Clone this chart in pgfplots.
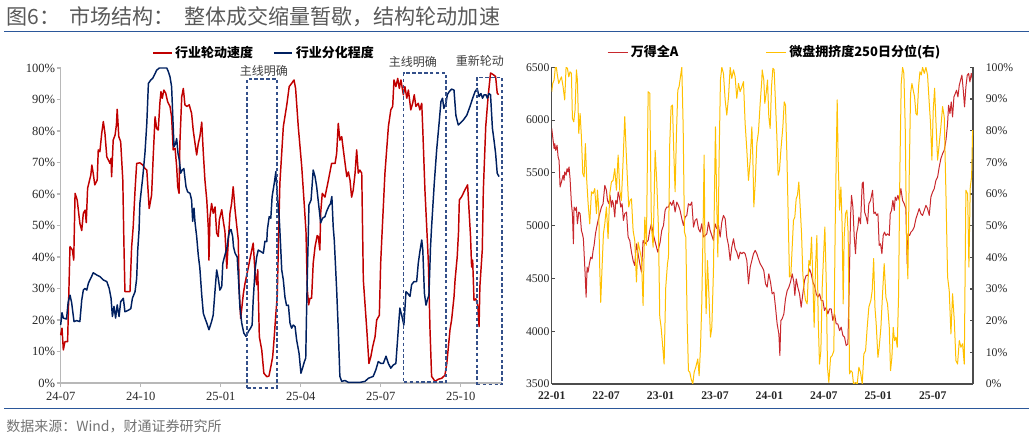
\documentclass[border=0pt]{standalone}
\usepackage{pgfplots}
\pgfplotsset{compat=1.18}
\usepackage{pgfplotstable}
\usepackage{fontspec}
\setmainfont{Liberation Serif}
\newfontfamily\cjk{Noto Sans CJK SC}
\definecolor{lred}{HTML}{C00000}
\definecolor{lnavy}{HTML}{002060}
\definecolor{rred}{HTML}{C8282D}
\definecolor{ryel}{HTML}{FFC000}
\definecolor{tblue}{HTML}{2B579A}
\definecolor{boxc}{HTML}{34508A}

% left panel: months since 2024-07, value in %
\pgfplotstableread{
m v
0.00 15.2
0.05 17.4
0.10 10.5
0.16 13.1
0.26 13.1
0.35 43.3
0.44 42.2
0.49 39.0
0.54 60.2
0.62 58.1
0.72 50.7
0.79 48.4
0.85 53.9
0.92 54.9
0.96 50.9
1.01 61.8
1.13 66.0
1.17 69.2
1.22 66.6
1.28 62.9
1.37 64.4
1.41 74.0
1.47 73.4
1.54 79.3
1.60 83.0
1.66 79.3
1.73 71.8
1.79 70.8
1.85 69.7
1.89 71.3
1.91 65.5
1.97 77.1
2.04 78.7
2.09 81.9
2.12 86.9
2.18 78.2
2.25 76.6
2.33 64.4
2.37 45.0
2.41 29.0
2.60 29.0
2.66 43.0
2.72 49.6
2.79 61.3
2.85 69.7
2.97 69.9
3.08 69.2
3.16 68.1
3.23 67.6
3.32 55.4
3.41 59.7
3.47 71.8
3.54 84.5
3.60 80.8
3.66 80.3
3.72 88.8
3.76 92.5
3.81 90.4
3.87 93.0
3.94 92.0
4.01 89.3
4.10 87.8
4.16 84.5
4.22 74.0
4.29 74.5
4.35 68.7
4.39 62.3
4.44 60.2
4.47 76.0
4.54 90.9
4.60 93.5
4.66 88.3
4.73 87.8
4.82 88.3
4.91 85.6
4.97 80.3
5.04 76.0
5.10 72.4
5.16 76.0
5.22 78.2
5.29 82.8
5.35 72.9
5.41 64.4
5.48 58.0
5.54 48.6
5.56 39.0
5.60 52.8
5.66 57.0
5.72 53.9
5.79 55.9
5.85 47.6
5.91 46.5
5.95 51.8
6.04 55.0
6.10 51.3
6.16 48.1
6.23 36.4
6.29 45.5
6.35 53.9
6.41 57.0
6.47 62.3
6.54 54.9
6.60 50.1
6.66 45.5
6.69 30.6
6.75 20.5
6.85 28.3
6.91 31.5
7.04 36.8
7.16 42.0
7.22 44.4
7.29 34.9
7.35 31.2
7.39 36.0
7.45 14.7
7.54 10.5
7.62 3.1
7.73 2.0
7.81 2.2
7.88 5.1
7.95 8.3
8.00 13.6
8.07 22.0
8.12 27.3
8.17 45.4
8.22 63.4
8.35 81.4
8.48 88.3
8.57 94.1
8.66 95.1
8.75 96.2
8.81 93.5
8.91 81.4
9.04 68.7
9.14 56.0
9.20 48.0
9.25 29.5
9.30 24.8
9.35 26.9
9.41 26.9
9.47 38.0
9.54 43.3
9.62 46.8
9.66 46.5
9.72 42.2
9.75 53.9
9.81 60.2
9.91 59.0
10.04 64.4
10.16 69.7
10.29 69.7
10.35 72.9
10.41 82.4
10.47 77.1
10.54 78.2
10.60 74.0
10.73 65.5
10.79 67.0
10.85 64.4
10.91 59.0
10.97 61.2
11.04 66.6
11.10 74.0
11.16 66.6
11.22 67.6
11.29 66.6
11.35 32.7
11.48 16.9
11.56 6.2
11.63 8.3
11.70 11.5
11.79 14.7
11.85 20.0
11.95 21.5
12.00 38.0
12.04 45.4
12.16 66.6
12.29 81.4
12.38 86.7
12.45 87.8
12.50 96.2
12.57 94.1
12.64 96.7
12.70 93.5
12.76 96.2
12.85 91.5
12.91 94.1
12.98 90.4
13.04 93.0
13.13 86.7
13.20 88.8
13.26 91.5
13.32 87.8
13.41 88.8
13.47 86.7
13.54 88.8
13.58 80.3
13.66 61.2
13.75 45.4
13.79 38.0
13.85 16.9
13.91 2.1
14.04 0.5
14.16 1.2
14.29 1.5
14.41 2.5
14.48 6.2
14.54 11.5
14.60 16.9
14.66 20.0
14.75 27.3
14.79 32.7
14.87 40.0
14.92 48.0
14.95 58.1
15.04 59.2
15.16 61.3
15.26 62.9
15.32 53.9
15.37 46.5
15.41 36.8
15.45 39.0
15.50 26.3
15.57 26.7
15.64 24.6
15.69 17.9
15.72 30.6
15.81 42.2
15.85 61.2
15.94 81.4
16.03 91.0
16.12 98.4
16.22 97.9
16.31 97.3
16.37 92.1
16.42 91.5
}\leftred

\pgfplotstableread{
m v
0.00 18.4
0.05 22.3
0.10 20.6
0.22 20.3
0.28 25.6
0.35 27.9
0.41 25.6
0.50 19.5
0.60 19.8
0.72 19.5
0.79 26.3
0.85 29.5
0.91 30.0
0.98 29.5
1.04 31.7
1.16 33.8
1.22 35.0
1.35 34.3
1.47 33.8
1.60 32.7
1.73 32.2
1.82 30.0
1.89 26.9
1.94 21.1
2.00 24.3
2.06 20.6
2.12 24.8
2.19 21.1
2.25 25.8
2.35 26.9
2.41 22.6
2.54 23.1
2.63 23.6
2.69 26.9
2.79 29.0
2.85 33.2
2.89 42.2
2.94 48.6
2.97 57.0
3.08 65.5
3.16 72.9
3.23 82.4
3.29 95.1
3.38 96.2
3.45 96.7
3.51 97.7
3.60 99.3
3.70 100
3.98 100
4.04 98.8
4.10 97.2
4.16 94.1
4.20 85.6
4.25 75.0
4.31 76.0
4.35 77.6
4.40 72.9
4.45 70.8
4.50 66.6
4.56 67.6
4.62 68.1
4.70 62.3
4.76 60.7
4.85 60.2
4.91 58.1
4.95 51.3
5.00 55.5
5.04 50.8
5.10 46.5
5.16 40.6
5.22 36.4
5.29 27.9
5.35 22.1
5.41 20.6
5.48 19.0
5.56 16.9
5.66 19.5
5.72 21.6
5.79 29.5
5.85 35.9
5.91 33.2
5.97 29.5
6.04 30.6
6.08 38.0
6.16 40.6
6.23 42.7
6.29 46.5
6.35 48.6
6.39 48.7
6.45 46.5
6.48 43.3
6.54 41.2
6.62 40.0
6.67 32.7
6.72 24.3
6.79 19.0
6.87 15.8
6.95 14.8
7.04 16.4
7.12 17.4
7.18 18.4
7.22 26.3
7.29 35.9
7.35 40.0
7.41 42.2
7.51 41.7
7.60 41.2
7.66 45.0
7.73 44.9
7.75 48.6
7.82 52.8
7.88 52.3
7.93 59.2
8.01 63.4
8.07 67.1
8.12 60.2
8.20 51.8
8.24 45.0
8.29 35.9
8.35 32.7
8.41 27.3
8.47 24.6
8.54 24.7
8.60 19.0
8.66 17.4
8.72 18.4
8.79 17.9
8.85 13.6
8.94 9.4
9.01 3.1
9.07 4.7
9.14 6.8
9.19 7.9
9.22 22.0
9.26 38.0
9.29 48.6
9.31 56.5
9.39 58.1
9.47 67.6
9.54 65.5
9.60 62.3
9.67 57.0
9.75 50.8
9.82 52.3
9.91 52.8
9.97 54.4
10.05 56.0
10.12 57.0
10.17 59.2
10.22 49.6
10.26 45.4
10.35 29.5
10.41 16.9
10.47 2.1
10.54 0.5
10.66 0.8
10.79 0.2
10.97 0.2
11.22 0.2
11.41 0.5
11.54 1.5
11.63 1.8
11.72 2.1
11.82 4.2
11.91 6.8
12.01 6.2
12.10 6.2
12.20 8.5
12.29 6.2
12.38 4.7
12.47 5.7
12.57 6.2
12.66 16.9
12.72 23.8
12.80 21.1
12.87 18.4
12.95 29.0
13.01 28.5
13.10 27.5
13.16 31.2
13.25 32.2
13.35 32.2
13.41 38.0
13.47 41.7
13.54 45.4
13.58 42.2
13.64 28.5
13.70 24.7
13.75 26.3
13.81 27.9
13.87 43.3
13.91 49.6
14.01 63.4
14.10 74.0
14.19 82.4
14.26 89.3
14.32 90.4
14.37 87.2
14.45 88.8
14.50 91.5
14.57 92.5
14.66 93.3
14.75 93.0
14.82 85.0
14.91 81.9
15.00 82.6
15.10 83.5
15.23 85.0
15.35 87.8
15.45 90.4
15.54 92.5
15.62 93.5
15.69 90.9
15.76 91.9
15.82 90.4
15.88 91.5
15.95 91.5
16.00 90.4
16.06 91.9
16.12 91.5
16.19 80.9
16.25 77.1
16.31 72.9
16.37 66.6
16.44 65.5
}\leftnavy

% right panel: months since 2022-01
\pgfplotstableread{
n v
0.00 5920
0.15 5809
0.26 5730
0.33 5777
0.44 5714
0.59 5762
0.70 5651
0.81 5619
0.92 5366
1.07 5414
1.25 5477
1.36 5430
1.43 5509
1.58 5477
1.69 5540
1.80 5509
1.91 5556
2.02 5445
2.17 5208
2.28 5113
2.39 4828
2.46 5176
2.61 5145
2.72 5176
2.83 5018
2.98 5129
3.13 5113
3.27 4955
3.38 4923
3.49 4876
3.57 4734
3.68 4544
3.79 4322
3.90 4607
4.01 4560
4.15 4639
4.30 4702
4.45 4686
4.56 4765
4.67 4813
4.82 4923
4.96 4987
5.11 5050
5.29 5113
5.48 5176
5.66 5208
5.85 5382
6.03 5335
6.14 5240
6.29 5208
6.43 5287
6.58 5176
6.69 5240
6.80 5208
6.95 5082
7.06 5240
7.21 5208
7.32 5319
7.46 5271
7.61 5176
7.76 5208
7.90 5050
8.05 5113
8.24 5129
8.42 4892
8.60 4860
8.79 4749
8.97 4670
9.15 4623
9.34 4828
9.52 4734
9.71 4639
9.89 4560
10.07 4860
10.26 4828
10.44 4844
10.63 4860
10.81 4955
10.99 5018
11.18 4923
11.36 4860
11.69 4749
11.95 4844
12.13 4955
12.32 5002
12.50 5145
12.68 5176
12.87 5176
13.05 5224
13.24 5192
13.42 5240
13.60 5129
13.79 5224
13.97 5192
14.15 5145
14.34 5066
14.52 5002
14.71 5082
14.89 5097
15.07 5208
15.26 5192
15.44 5224
15.63 4987
15.81 5050
15.99 5066
16.18 4971
16.36 4939
16.54 5018
16.73 4892
16.91 4907
17.10 4923
17.28 5034
17.46 4955
17.65 4907
17.83 4860
18.01 5018
18.20 4971
18.38 5002
18.57 4892
18.75 5034
18.93 5097
19.12 5066
19.30 4892
19.49 4813
19.67 4670
19.85 4797
20.04 4876
20.22 4781
20.40 4749
20.59 4686
20.77 4749
20.96 4734
21.14 4749
21.32 4734
21.51 4670
21.69 4449
21.88 4607
22.06 4670
22.24 4734
22.43 4765
22.61 4734
22.79 4686
22.98 4639
23.20 4607
23.38 4575
23.57 4449
23.75 4417
23.93 4544
24.12 4465
24.30 4354
24.49 4370
24.67 4227
24.85 4069
25.04 3974
25.15 3769
25.26 4101
25.40 4117
25.59 4164
25.77 4307
25.96 4386
26.14 4417
26.32 4465
26.51 4544
26.69 4465
26.80 4338
26.95 4496
27.13 4417
27.32 4354
27.50 4227
27.68 4354
27.87 4481
28.05 4528
28.24 4528
28.42 4591
28.60 4544
28.79 4465
28.97 4433
29.16 4354
29.34 4322
29.52 4354
29.71 4291
29.89 4291
30.07 4196
30.26 4227
30.44 4164
30.63 4212
30.81 4212
30.99 4101
31.18 4164
31.36 4069
31.54 4069
31.73 4006
31.91 4038
32.10 3959
32.28 3943
32.46 3864
32.65 3880
32.76 4291
32.94 5082
33.05 5287
33.20 5176
33.35 4892
33.49 4734
33.60 4923
33.75 4987
33.86 5082
34.04 5018
34.23 5398
34.34 5414
34.49 5129
34.67 5082
34.82 5018
34.96 5208
35.15 5240
35.37 5335
35.51 5113
35.66 5129
35.81 5097
35.96 5113
36.10 4813
36.25 4828
36.40 4734
36.54 4907
36.69 4939
36.84 4907
37.02 4923
37.21 4907
37.32 5113
37.46 5145
37.61 5240
37.76 5145
37.87 5271
38.01 5240
38.16 5287
38.31 5240
38.49 5351
38.68 5240
38.86 5208
39.04 5161
39.19 4639
39.30 4923
39.45 4907
39.60 4939
39.78 4955
39.96 4987
40.15 5066
40.33 5113
40.51 5161
40.70 5113
40.88 5097
41.07 5145
41.25 5192
41.43 5161
41.62 5097
41.80 5271
41.99 5319
42.17 5351
42.35 5429
42.54 5461
42.72 5556
42.90 5635
43.09 5682
43.27 5714
43.46 5809
43.64 5967
43.75 6141
43.90 6062
44.04 6173
44.19 6030
44.34 6220
44.49 6252
44.63 6283
44.78 6220
44.93 6331
45.07 6378
45.22 6426
45.37 6283
45.51 6125
45.66 6315
45.81 6426
45.96 6442
46.10 6362
46.25 6442
46.40 6378
}\rightred

\pgfplotstableread{
n v
0.00 92.3
0.11 94.9
0.26 96
0.40 100
0.51 100
0.62 97.6
0.77 94.9
0.92 96
1.07 97
1.25 93.9
1.43 89.7
1.58 100
1.73 99.7
1.88 97
2.02 98.6
2.17 98.1
2.28 83.9
2.43 82.8
2.57 86.5
2.72 99.2
2.83 96
2.98 79.1
3.13 85.4
3.27 78.1
3.42 66.5
3.57 65.4
3.71 75.9
3.86 64.3
4.01 57
4.19 50.6
4.38 60.7
4.56 60.1
4.74 61.7
4.93 53.8
5.04 61.2
5.18 55.4
5.29 36.9
5.40 25.8
5.55 36.9
5.70 47.5
5.85 50.6
6.03 55.9
6.21 45.9
6.40 60.1
6.58 63.8
6.76 64.3
6.95 68
7.13 61.2
7.32 72.3
7.50 61.2
7.68 58
7.87 70.7
8.05 84.4
8.20 73.8
8.35 64.3
8.49 55.9
8.64 58
8.79 58.5
8.97 48.5
9.15 45.4
9.34 32.2
9.52 44.8
9.71 42.2
9.89 39.6
10.07 24.8
10.26 52.7
10.44 43.8
10.63 92.3
10.81 91.8
10.99 49.6
11.18 43.2
11.40 73.8
11.58 63.8
11.76 49.6
11.91 21.1
12.06 17.9
12.21 12.7
12.39 6.3
12.57 30.6
12.76 38
12.87 40.1
13.01 75.9
13.16 87.6
13.31 88.1
13.46 72.8
13.60 60.7
13.75 79.1
13.90 92.8
14.04 93.9
14.19 97
14.34 100
14.49 81.2
14.63 48
14.78 46.4
14.93 20
15.07 4.2
15.22 3.7
15.37 1.6
15.55 0
15.70 3.7
15.88 5.3
16.10 7.9
16.25 2.6
16.40 11.6
16.54 25.3
16.69 49.6
16.80 72.3
16.91 36.9
17.02 22.2
17.17 39
17.35 26.4
17.50 14.8
17.65 17.9
17.83 35.9
17.94 60.1
18.05 81.2
18.16 62.2
18.31 40.1
18.46 72.8
18.60 96
18.75 100
18.93 98.1
19.12 89.7
19.30 84.9
19.49 90.7
19.67 100
19.85 96.5
20.04 99.2
20.22 97
20.40 90.2
20.59 94.9
20.77 92.3
20.96 93.9
21.14 95.5
21.32 82.3
21.51 73.8
21.69 64.3
21.88 70.7
22.06 81.2
22.17 71.7
22.28 55.9
22.43 63.3
22.61 75.9
22.79 79.6
22.98 88.6
23.16 96
23.20 99.2
23.38 96
23.49 88.6
23.64 91.8
23.79 96
23.93 84.4
24.08 80.7
24.23 93.9
24.38 99.7
24.52 99.2
24.67 88.6
24.82 78.1
24.96 65.9
25.11 67.5
25.26 73.8
25.48 81.2
25.63 89.1
25.77 88.1
25.92 72.8
26.07 52.7
26.21 33.8
26.36 34.3
26.51 43.2
26.65 51.7
26.80 52.7
26.95 58.5
27.09 59.6
27.24 63.8
27.39 55.9
27.54 47.5
27.68 34.8
27.83 29.5
27.98 26.4
28.16 25.3
28.35 39
28.49 37.4
28.64 46.4
28.79 32.7
28.93 17.9
29.08 36.9
29.23 46.9
29.38 20
29.52 6.3
29.67 10.5
29.82 30.6
29.96 40.1
30.11 49.6
30.26 32.7
30.40 5.3
30.55 0.5
30.74 8.4
30.92 9
31.10 10.5
31.25 49.6
31.36 70.7
31.47 89.7
31.58 70.7
31.73 54.9
31.88 62.2
32.02 49.6
32.13 25.3
32.24 46.4
32.39 53.8
32.54 54.9
32.68 47.5
32.83 3.2
32.98 4.2
33.13 3.7
33.27 0
33.49 0.5
33.68 0
33.86 5.3
34.04 3.7
34.23 0
34.41 9.5
34.60 10.5
34.78 17.9
34.96 24.3
35.18 26.4
35.33 29.5
35.49 39.6
35.63 24.3
35.77 19
35.96 8.4
36.10 11.6
36.29 17.9
36.47 28.5
36.65 38
36.84 27.4
37.02 25.3
37.21 17.9
37.35 4.2
37.50 8.4
37.65 17.9
37.79 13.7
37.94 14.8
38.09 11.6
38.24 28.5
38.38 67.5
38.53 94.9
38.68 100
38.82 98.1
38.97 81.2
39.12 45.4
39.26 33.2
39.41 65.4
39.56 91.8
39.71 94.9
39.85 92.8
40.00 90.7
40.15 85.4
40.29 84.9
40.44 93.9
40.59 98.6
40.74 97.6
40.88 100
41.07 98.1
41.25 100
41.43 97.6
41.62 88.6
41.76 82.3
41.91 70.7
42.06 86.5
42.21 93.4
42.35 83.3
42.54 70.7
42.72 75.9
42.90 81.2
43.09 87.6
43.27 84.4
43.46 60.1
43.64 33.8
43.82 29.5
44.01 15.8
44.19 28.5
44.38 20
44.56 7.4
44.74 6.3
44.93 13.7
45.11 11.6
45.29 12.7
45.48 6.3
45.66 61.2
45.85 60.1
45.99 36.9
46.14 62.2
46.29 65.4
46.40 80.2
}\rightyel

\begin{document}
\begin{tikzpicture}[x=1pt,y=1pt]
\useasboundingbox (0,0) rectangle (774,328.5);
% title and rules
\node[anchor=west, inner sep=0, text=black!65] at (4.5,315.75)
  {\cjk\fontsize{15.8}{16}\selectfont 图6：\hspace{7pt}市场结构：\hspace{7pt}整体成交缩量暂歇，结构轮动加速};
\draw[tblue, line width=1.1pt] (3,304.7) -- (772,304.7);
\draw[tblue, line width=1.1pt] (3,22.1) -- (772,22.1);
\node[anchor=west, inner sep=0, text=black!55] at (4.5,8.6)
  {\cjk\fontsize{10.5}{11}\selectfont 数据来源：Wind，财通证券研究所};

% ---------------- left panel ----------------
\begin{axis}[
  at={(45.5pt,41.25pt)}, anchor=south west, scale only axis,
  width=331pt, height=236.25pt,
  xmin=0, xmax=16.55, ymin=0, ymax=100, clip=false,
  axis x line*=bottom, axis y line*=left,
  axis line style={draw=black!28, line width=0.8pt},
  tick style={draw=black!28, line width=0.8pt},
  tick align=outside, major tick length=3pt,
  xtick={0,3,6,9,12,15},
  xticklabels={24-07,24-10,25-01,25-04,25-07,25-10},
  ytick={0,10,20,30,40,50,60,70,80,90,100},
  yticklabels={0\%,10\%,20\%,30\%,40\%,50\%,60\%,70\%,80\%,90\%,100\%},
  ticklabel style={font=\fontsize{9.4}{10}\selectfont, text=black!85},
  yticklabel style={inner sep=1pt},
  legend columns=2,
  legend style={at={(0.207,1.048)}, anchor=west, draw=none, fill=none, inner sep=0pt,
    font=\cjk\bfseries\fontsize{9.75}{10}\selectfont,
    /tikz/every even column/.append style={column sep=13pt}},
  legend image code/.code={\draw[#1] (0pt,0pt) -- (14pt,0pt);},
]
\addplot[lred, line width=1.1pt, mark=none, line join=round] table[x=m,y=v] {\leftred};
\addlegendentry{行业轮动速度}
\addplot[lnavy, line width=1.1pt, mark=none, line join=round] table[x=m,y=v] {\leftnavy};
\addlegendentry{行业分化程度}
\addplot[boxc, line width=0.9pt, dash pattern=on 2.6pt off 1.8pt, mark=none, forget plot]
  coordinates {(6.99,-1.6) (8.11,-1.6) (8.11,96.5) (6.99,96.5) (6.99,-1.6)};
\addplot[boxc, line width=0.9pt, dash pattern=on 2.6pt off 1.8pt, mark=none, forget plot]
  coordinates {(12.87,0.3) (14.45,0.3) (14.45,98.4) (12.87,98.4) (12.87,0.3)};
\addplot[boxc, line width=0.9pt, dash pattern=on 2.6pt off 1.8pt, mark=none, forget plot]
  coordinates {(15.61,-0.6) (16.55,-0.6) (16.55,97.1) (15.61,97.1) (15.61,-0.6)};
\node[text=black!75, font=\cjk\fontsize{9}{10}\selectfont] at (axis cs:7.62,99.2) {主线明确};
\node[text=black!75, font=\cjk\fontsize{9}{10}\selectfont] at (axis cs:13.21,102) {主线明确};
\node[text=black!75, font=\cjk\fontsize{9}{10}\selectfont] at (axis cs:15.72,102.3) {重新轮动};
\end{axis}

% ---------------- right panel ----------------
\begin{axis}[
  at={(413.8pt,40.5pt)}, anchor=south west, scale only axis,
  width=316pt, height=237.5pt,
  xmin=0, xmax=46.45, ymin=3500, ymax=6500,
  axis x line*=bottom, axis y line*=left,
  axis line style={draw=black!70, line width=1pt},
  tick style={draw=black!70, line width=0.8pt},
  tick align=inside, major tick length=2.5pt,
  xtick={0,6,12,18,24,30,36,42},
  xticklabels={22-01,22-07,23-01,23-07,24-01,24-07,25-01,25-07},
  xtick style={draw=none},
  xticklabel style={font=\bfseries\fontsize{8.8}{10}\selectfont, text=black!85, yshift=-2.5pt},
  ytick={3500,4000,4500,5000,5500,6000,6500},
  yticklabels={3500,4000,4500,5000,5500,6000,6500},
  yticklabel style={font=\fontsize{8.8}{10}\selectfont, text=black!85, inner sep=1.5pt},
  legend style={at={(0.131,1.048)}, anchor=west, draw=none, fill=none, inner sep=0pt,
    font=\cjk\bfseries\fontsize{9.75}{10}\selectfont},
  legend image code/.code={\draw[#1] (0pt,0pt) -- (15pt,0pt);},
]
\addplot[rred, line width=0.75pt, mark=none, line join=round] table[x=n,y=v] {\rightred};
\addlegendentry{万得全A}
\end{axis}
\begin{axis}[
  at={(413.8pt,40.5pt)}, anchor=south west, scale only axis,
  width=316pt, height=237.5pt,
  xmin=0, xmax=46.45, ymin=0, ymax=100,
  axis x line=none, axis y line*=right,
  axis line style={draw=black!70, line width=1pt},
  tick style={draw=black!70, line width=0.8pt},
  tick align=inside, major tick length=2.5pt,
  ytick={0,10,20,30,40,50,60,70,80,90,100},
  yticklabels={0\%,10\%,20\%,30\%,40\%,50\%,60\%,70\%,80\%,90\%,100\%},
  yticklabel style={font=\fontsize{8.8}{10}\selectfont, text=black!85, xshift=6pt},
  legend style={at={(0.507,1.048)}, anchor=west, draw=none, fill=none, inner sep=0pt,
    font=\cjk\bfseries\fontsize{9.75}{10}\selectfont},
  legend image code/.code={\draw[#1] (0pt,0pt) -- (15pt,0pt);},
]
\addplot[ryel, line width=0.75pt, mark=none, line join=round] table[x=n,y=v] {\rightyel};
\addlegendentry{微盘拥挤度250日分位(右)}
\end{axis}
\end{tikzpicture}
\end{document}
